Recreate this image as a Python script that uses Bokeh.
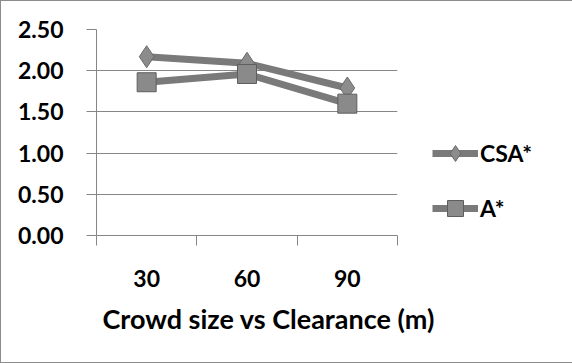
from bokeh.plotting import figure
from bokeh.models import FixedTicker, Range1d, Legend, LegendItem, NumeralTickFormatter, Title
from bokeh.embed import file_html
from bokeh.resources import INLINE

categories = ["30", "60", "90"]
csa_values = [2.17, 2.09, 1.79]
a_values = [1.86, 1.96, 1.60]
y_ticks = [0.0, 0.5, 1.0, 1.5, 2.0, 2.5]
series_names = ["CSA*", "A*"]
x_title = "Crowd size vs Clearance (m)"

FONT = "Lato"
GRID = "#868686"
LINE = "#7a7a7a"

xs = [i + 0.5 for i in range(len(categories))]

p = figure(width=570, height=361, output_backend="svg", toolbar_location=None,
           x_range=Range1d(0, len(categories)), y_range=Range1d(0, 2.5),
           min_border_left=95, min_border_top=28, min_border_right=174, min_border_bottom=127,
           frame_width=301, frame_height=206)
p.styles = {"border": "1px solid #8c8c8c"}
p.outline_line_color = None
p.background_fill_color = "white"
p.border_fill_color = "white"

# x axis
p.xaxis.ticker = FixedTicker(ticks=xs, minor_ticks=list(range(len(categories) + 1)))
p.xaxis.major_label_overrides = {x: c for x, c in zip(xs, categories)}
p.xaxis.major_tick_out = 0
p.xaxis.major_tick_in = 0
p.xaxis.minor_tick_out = 10
p.xaxis.minor_tick_in = 0
p.xaxis.minor_tick_line_color = GRID
p.xaxis.axis_line_color = GRID
p.xaxis.major_label_standoff = 24
p.xaxis.major_label_text_font = FONT
p.xaxis.major_label_text_font_style = "bold"
p.xaxis.major_label_text_font_size = "23px"
p.xaxis.major_label_text_color = "black"

p.add_layout(Title(text=x_title, align="left", offset=6, standoff=21,
                   text_font=FONT, text_font_style="bold", text_font_size="27px",
                   text_color="black"), "below")

# y axis
p.yaxis.ticker = FixedTicker(ticks=y_ticks, minor_ticks=[])
p.yaxis.formatter = NumeralTickFormatter(format="0.00")
p.yaxis.major_tick_out = 10
p.yaxis.major_tick_in = 0
p.yaxis.major_tick_line_color = GRID
p.yaxis.axis_line_color = GRID
p.yaxis.major_label_standoff = 23
p.yaxis.major_label_text_font = FONT
p.yaxis.major_label_text_font_style = "bold"
p.yaxis.major_label_text_font_size = "23px"
p.yaxis.major_label_text_color = "black"

p.xgrid.grid_line_color = None
p.ygrid.grid_line_color = GRID
p.ygrid.ticker = FixedTicker(ticks=y_ticks)

l1 = p.line(xs, csa_values, line_color=LINE, line_width=7)
m1 = p.scatter(xs, csa_values, marker="diamond", size=22, fill_color="#8c8c8c",
               line_color="#6a6a6a", line_width=1)
l2 = p.line(xs, a_values, line_color=LINE, line_width=7)
m2 = p.scatter(xs, a_values, marker="square", size=19, fill_color="#8a8a8a",
               line_color="#5e5e5e", line_width=1)

legend = Legend(items=[LegendItem(label=series_names[0], renderers=[l1, m1]),
                       LegendItem(label=series_names[1], renderers=[l2, m2])],
                location=(35, 7), padding=0, margin=0, spacing=15,
                glyph_width=46, glyph_height=40, label_height=40, label_standoff=2,
                border_line_color=None, background_fill_alpha=0,
                label_text_font=FONT, label_text_font_style="bold",
                label_text_font_size="23px", label_text_color="black")
p.add_layout(legend, "right")

open("out.html", "w").write(file_html(p, INLINE))
